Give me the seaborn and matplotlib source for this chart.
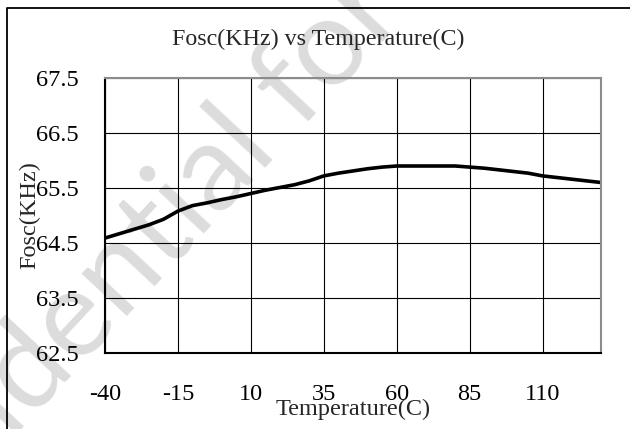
import numpy as np
import pandas as pd
import matplotlib
matplotlib.use("Agg")
import matplotlib.pyplot as plt
import seaborn as sns
from matplotlib.lines import Line2D

# readings
temperature = [-40, -35, -30, -25, -20, -15, -10, -5, 0, 5, 10, 15, 20, 25, 30, 35,
               40, 45, 50, 55, 60, 65, 70, 75, 80, 85, 90, 95, 100, 105, 110, 115,
               120, 125, 130]
fosc_khz = [64.59, 64.67, 64.75, 64.83, 64.93, 65.08, 65.18, 65.23, 65.29, 65.34,
            65.40, 65.46, 65.51, 65.56, 65.63, 65.72, 65.77, 65.81, 65.85, 65.88,
            65.90, 65.90, 65.90, 65.90, 65.90, 65.88, 65.86, 65.83, 65.80, 65.77,
            65.72, 65.69, 65.66, 65.63, 65.60]
x_ticks = [-40, -15, 10, 35, 60, 85, 110]
y_ticks = [62.5, 63.5, 64.5, 65.5, 66.5, 67.5]

sns.set_theme(style="white")
plt.rcParams['font.family'] = ['Liberation Serif', 'DejaVu Serif']
plt.rcParams['axes.unicode_minus'] = False

df = pd.DataFrame({"Temperature": temperature, "Fosc": fosc_khz})

fig = plt.figure(figsize=(6.3, 4.29), dpi=100)
ax = fig.add_axes([105 / 630, 1 - 353 / 429, 496 / 630, 275 / 429])
ax.patch.set_alpha(0)

sns.lineplot(data=df, x="Temperature", y="Fosc", color="black", linewidth=2.6, ax=ax)

ax.set_xlim(-40, 130)
ax.set_ylim(62.5, 67.5)
ax.set_xticks(x_ticks)
ax.set_xticklabels([str(v) for v in x_ticks])
ax.set_yticks(y_ticks)
ax.set_yticklabels([f"{v:.1f}" for v in y_ticks])
ax.grid(True, color="black", linewidth=0.8)
ax.tick_params(direction="in", length=8, width=1, colors="black", labelsize=17.5)
ax.tick_params(axis="y", pad=19)
ax.tick_params(axis="x", pad=22)

for side in ["left", "bottom"]:
    ax.spines[side].set_color("black")
    ax.spines[side].set_linewidth(1.5)
for side in ["top", "right"]:
    ax.spines[side].set_color("#8c8c8c")
    ax.spines[side].set_linewidth(1.5)

ax.set_xlabel("Temperature(C)", fontsize=17.5)
ax.set_ylabel("Fosc(KHz)", fontsize=17.5)
ax.xaxis.set_label_coords(0.5, -0.165)
ax.yaxis.set_label_coords(-0.13, 0.5)

fig.text(318 / 630, 1 - 39 / 429, "Fosc(KHz) vs Temperature(C)",
         ha="center", va="center", fontsize=17.3)

# outer frame (only left and top edges show)
fig.add_artist(Line2D([7 / 630, 7 / 630, 1.0], [0.0, 1 - 8 / 429, 1 - 8 / 429],
                      transform=fig.transFigure, color="black", linewidth=1.3))

# watermark
fig.text(0.15, 0.30, "Confidential for", rotation=47, fontsize=88,
         color="#dcdcdc", family="Lato", ha="center", va="center",
         rotation_mode="anchor", zorder=-5)

fig.savefig("out.png", dpi=100)
